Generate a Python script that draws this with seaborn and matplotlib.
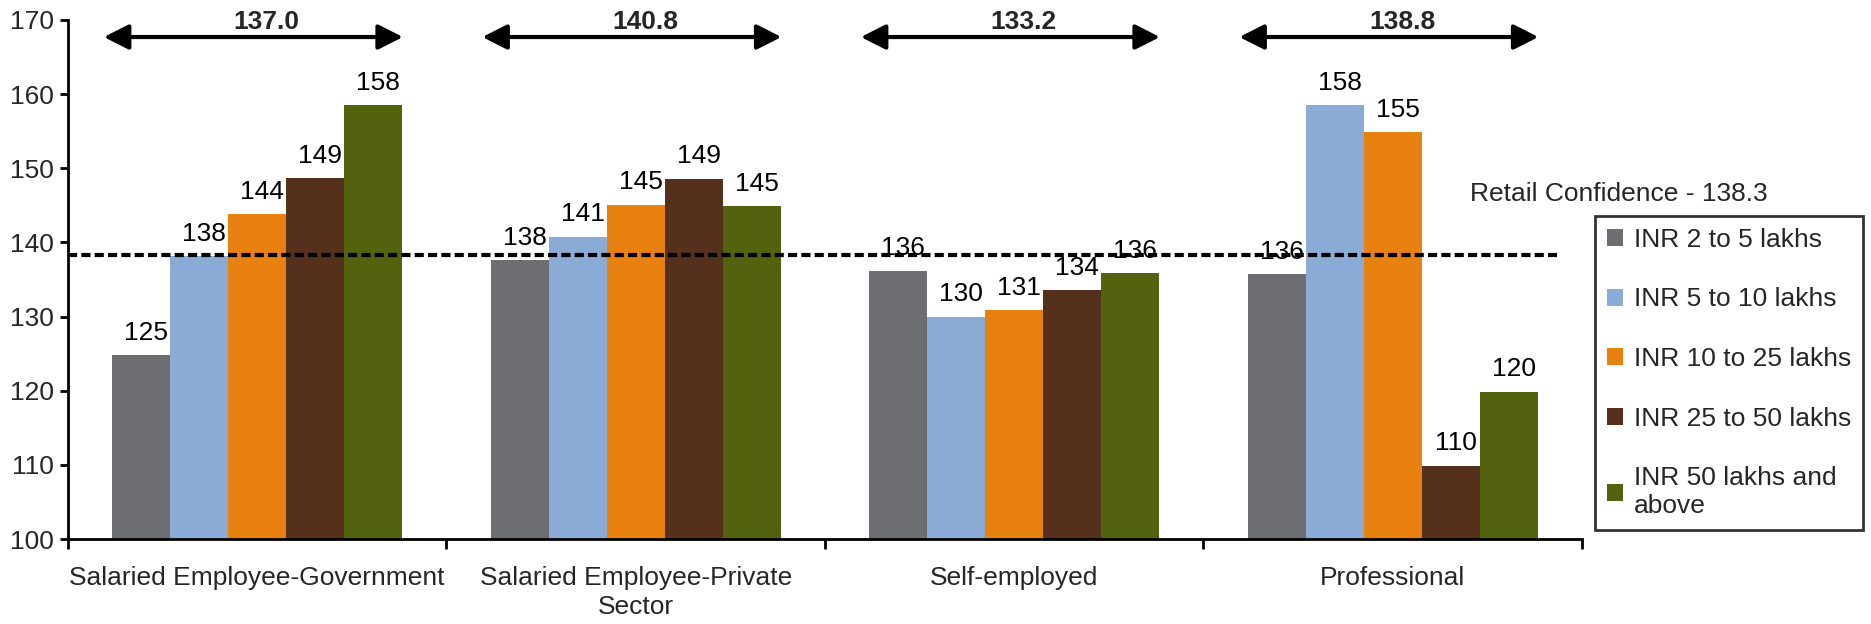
import matplotlib
matplotlib.use("Agg")
import matplotlib.pyplot as plt
from matplotlib.patches import Patch
import seaborn as sns
import pandas as pd

# Occupation groups on the x axis
categories = [
    "Salaried Employee-Government",
    "Salaried Employee-Private\nSector",
    "Self-employed",
    "Professional",
]
# Income bands (hue)
income_bands = [
    "INR 2 to 5 lakhs",
    "INR 5 to 10 lakhs",
    "INR 10 to 25 lakhs",
    "INR 25 to 50 lakhs",
    "INR 50 lakhs and\nabove",
]
# Confidence index per income band, one value per occupation group
inr_2_5 = [124.8, 137.6, 136.2, 135.7]
inr_5_10 = [138.2, 140.8, 130.0, 158.5]
inr_10_25 = [143.8, 145.1, 130.9, 154.9]
inr_25_50 = [148.7, 148.6, 133.6, 109.9]
inr_50_plus = [158.5, 144.9, 135.9, 119.9]

# Group averages shown above each cluster
group_average = [137.0, 140.8, 133.2, 138.8]
retail_confidence = 138.3

colors = ["#6D6E71", "#8AABD6", "#E8810F", "#54301D", "#52620F"]

FS = 19

series = [inr_2_5, inr_5_10, inr_10_25, inr_25_50, inr_50_plus]
rows = []
for band, vals in zip(income_bands, series):
    for cat, v in zip(categories, vals):
        rows.append({"category": cat, "band": band, "value": v})
df = pd.DataFrame(rows)

sns.set_theme(style="white")
plt.rcParams["font.family"] = ["Liberation Sans", "DejaVu Sans"]
plt.rcParams["font.size"] = FS

fig = plt.figure(figsize=(18.71, 6.24), dpi=100)
ax = fig.add_axes([0.0363, 0.136, 0.8092, 0.832])

sns.barplot(
    data=df, x="category", y="value", hue="band",
    order=categories, hue_order=income_bands, palette=colors,
    saturation=1, width=0.766, linewidth=0, edgecolor="none",
    legend=False, ax=ax,
)

ax.set_ylim(100, 170)
ax.set_xlim(-0.5, 3.5)
ax.set_yticks(range(100, 171, 10))
ax.set_xlabel("")
ax.set_ylabel("")

# value labels above each bar
for container in ax.containers:
    for bar in container:
        h = bar.get_height()
        ax.annotate(
            f"{h:.0f}",
            (bar.get_x() + bar.get_width() / 2, h),
            xytext=(3.5, 11), textcoords="offset points",
            ha="center", va="baseline", fontsize=FS, color="black",
        )

# retail confidence reference line
ax.plot([-0.5, 3.434], [retail_confidence, retail_confidence],
        color="black", lw=3, dashes=(2.2, 1.0), clip_on=False, zorder=5)
ax.text(3.204, 146.6, f"Retail Confidence - {retail_confidence}",
        ha="left", va="center", fontsize=FS, clip_on=False)

# double-headed arrows with the group averages
for i, avg in enumerate(group_average):
    ax.annotate(
        "", xy=(i + 0.385, 167.7), xytext=(i - 0.405, 167.7),
        arrowprops=dict(arrowstyle="<|-|>,head_length=0.75,head_width=0.38",
                        mutation_scale=20, lw=3, color="black",
                        shrinkA=0, shrinkB=0),
        annotation_clip=False,
    )
    ax.text(i + 0.025, 168.75, f"{avg:.1f}", ha="center", va="baseline",
            fontsize=FS, fontweight="bold", clip_on=False)

# axes styling
for side in ["top", "right"]:
    ax.spines[side].set_visible(False)
for side in ["left", "bottom"]:
    ax.spines[side].set_color("black")
    ax.spines[side].set_linewidth(2)

ax.set_xticks(range(len(categories)))
ax.set_xticklabels(categories, linespacing=1.3)
ax.set_xticks([-0.5, 0.5, 1.5, 2.5, 3.5], minor=True)
ax.tick_params(axis="x", which="major", length=0, pad=19, labelsize=FS)
ax.tick_params(axis="x", which="minor", length=7, width=2, direction="out",
               color="black", bottom=True)
ax.tick_params(axis="y", length=6, width=2, direction="out", pad=4,
               labelsize=FS, left=True, color="black")

handles = [Patch(facecolor=c, edgecolor="none") for c in colors]
leg = fig.legend(
    handles, income_bands, loc="upper left",
    bbox_to_anchor=(1595 / 1871, 1 - 216 / 624),
    frameon=True, fancybox=False, edgecolor="black",
    fontsize=FS, handlelength=0.6, handleheight=0.6,
    handletextpad=0.42, labelspacing=1.35, borderpad=0.45,
    borderaxespad=0,
)
leg.get_frame().set_linewidth(2)

fig.savefig("out.png", dpi=100, facecolor="white")
